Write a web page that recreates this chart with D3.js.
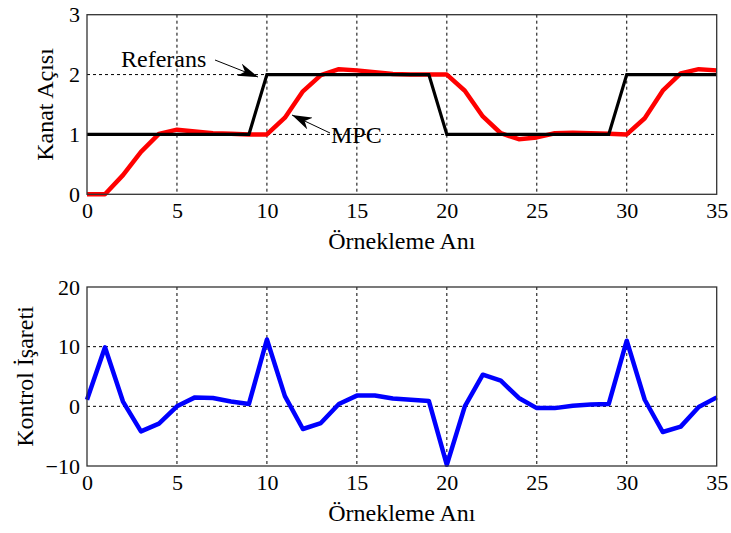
<!DOCTYPE html>
<html>
<head>
<meta charset="utf-8">
<script src="https://cdn.jsdelivr.net/npm/d3@7"></script>
<style>
body { margin: 0; background: #fff; }
svg { display: block; }
</style>
</head>
<body>
<svg width="731" height="533"></svg>
<script>
// sample index
const samples = d3.range(0, 36);
// reference signal (Referans)
const referans = [1,1,1,1,1,1,1,1,1,1, 2,2,2,2,2,2,2,2,2,2, 1,1,1,1,1,1,1,1,1,1, 2,2,2,2,2,2];
// MPC output
const mpc = [0,0,0.32,0.71,1.01,1.08,1.05,1.02,1.01,1.0,
             1.0,1.28,1.72,1.99,2.09,2.07,2.04,2.01,2.0,2.0,
             2.0,1.73,1.3,1.02,0.92,0.95,1.02,1.03,1.02,1.01,
             1.0,1.27,1.73,2.02,2.09,2.07];
// control signal (Kontrol Isareti)
const kontrol = [1.1,9.9,0.8,-4.2,-2.9,0,1.5,1.4,0.8,0.4,
                 11.2,1.7,-3.8,-2.8,0.4,1.8,1.8,1.3,1.1,0.9,
                 -9.8,0,5.3,4.3,1.4,-0.3,-0.3,0.1,0.3,0.4,
                 11,1.1,-4.3,-3.4,-0.1,1.5];

const xTicks = [0,5,10,15,20,25,30,35];
const yTicksTop = [0,1,2,3];
const yTicksBot = [-10,0,10,20];

const FONT = '"Liberation Serif", "DejaVu Serif", serif';

const svg = d3.select("svg").style('font-family', FONT);

const left = 87, right = 716.7;
const xscale = d3.scaleLinear().domain([0,35]).range([left,right]);

const defs = svg.append('defs');
defs.append('marker')
    .attr('id','arrow')
    .attr('viewBox','0 0 10 10')
    .attr('refX',10).attr('refY',5)
    .attr('markerWidth',20).attr('markerHeight',13)
    .attr('markerUnits','userSpaceOnUse')
    .attr('orient','auto')
    .attr('preserveAspectRatio','none')
  .append('path')
    .attr('d','M0,0 L10,5 L0,10 L3,5 Z')
    .attr('fill','#000');

const drawPanel = (top, bottom, ydom, yticks, ylabel, ylabelX) => {
    const yscale = d3.scaleLinear().domain(ydom).range([bottom, top]);
    const g = svg.append('g');

    // grid (dashed)
    g.selectAll('.vgrid').data(xTicks.slice(1,-1)).enter().append('line')
        .attr('x1', d => xscale(d)).attr('x2', d => xscale(d))
        .attr('y1', top).attr('y2', bottom)
        .attr('stroke','#000').attr('stroke-width',1)
        .attr('stroke-dasharray','3,3');
    g.selectAll('.hgrid').data(yticks.slice(1,-1)).enter().append('line')
        .attr('x1', left).attr('x2', right)
        .attr('y1', d => yscale(d)).attr('y2', d => yscale(d))
        .attr('stroke','#000').attr('stroke-width',1)
        .attr('stroke-dasharray','3,3');

    // axes with labels only
    const xAxis = g.append('g')
        .attr('transform',`translate(0,${bottom})`)
        .call(d3.axisBottom(xscale).tickValues(xTicks).tickFormat(d3.format('d')).tickSize(0).tickPadding(8));
    xAxis.select('.domain').remove();
    xAxis.attr('font-family', null).attr('font-size', null);
    xAxis.selectAll('text').style('font-family', FONT).style('font-size','22px').attr('fill','#000');

    const yAxis = g.append('g')
        .attr('transform',`translate(${left},0)`)
        .call(d3.axisLeft(yscale).tickValues(yticks).tickFormat(d3.format('d')).tickSize(0).tickPadding(7));
    yAxis.select('.domain').remove();
    yAxis.attr('font-family', null).attr('font-size', null);
    yAxis.selectAll('text').style('font-family', FONT).style('font-size','22px').attr('fill','#000');

    g.append('text')
        .attr('x', (left+right)/2).attr('y', bottom + 55)
        .attr('text-anchor','middle').style('font-size','24px')
        .text('Örnekleme Anı');

    g.append('text')
        .attr('transform',`translate(${ylabelX},${(top+bottom)/2}) rotate(-90)`)
        .attr('text-anchor','middle').style('font-size','24px')
        .text(ylabel);

    return {g, yscale, top, bottom};
};

const frame = p => {
    p.g.append('rect')
        .attr('x', left).attr('y', p.top)
        .attr('width', right-left).attr('height', p.bottom-p.top)
        .attr('fill','none').attr('stroke','#333').attr('stroke-width',1.3);
};

// top panel
const p1 = drawPanel(14.7, 194.3, [0,3], yTicksTop, 'Kanat Açısı', 53);
const line1 = d3.line().x((d,i) => xscale(samples[i])).y(d => p1.yscale(d));
p1.g.append('path').datum(mpc)
    .attr('d', line1).attr('fill','none')
    .attr('stroke','#ff0000').attr('stroke-width',4.5)
    .attr('stroke-linejoin','round');
p1.g.append('path').datum(referans)
    .attr('d', line1).attr('fill','none')
    .attr('stroke','#000').attr('stroke-width',3.2);
frame(p1);

// annotations
p1.g.append('text').attr('x',121).attr('y',66.5).style('font-size','24px').text('Referans');
p1.g.append('line')
    .attr('x1',215).attr('y1',60).attr('x2',258).attr('y2',77)
    .attr('stroke','#000').attr('stroke-width',1)
    .attr('marker-end','url(#arrow)');
p1.g.append('text').attr('x',331).attr('y',143).style('font-size','24px').text('MPC');
p1.g.append('line')
    .attr('x1',330).attr('y1',133).attr('x2',292).attr('y2',115)
    .attr('stroke','#000').attr('stroke-width',1)
    .attr('marker-end','url(#arrow)');

// bottom panel
const p2 = drawPanel(287, 466, [-10,20], yTicksBot, 'Kontrol İşareti', 33);
const line2 = d3.line().x((d,i) => xscale(samples[i])).y(d => p2.yscale(d));
p2.g.append('path').datum(kontrol)
    .attr('d', line2).attr('fill','none')
    .attr('stroke','#0000ff').attr('stroke-width',4.5)
    .attr('stroke-linejoin','round');
frame(p2);
</script>
</body>
</html>
